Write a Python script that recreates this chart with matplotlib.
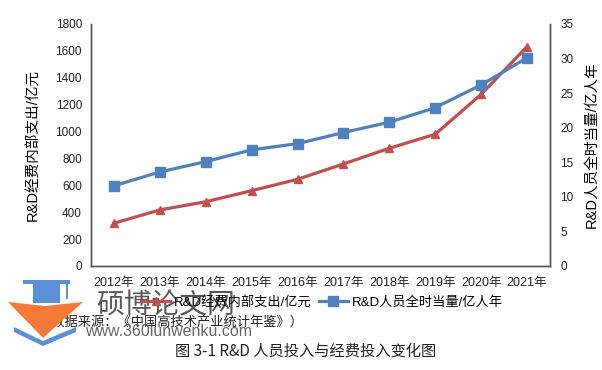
import numpy as np
import matplotlib
matplotlib.use("Agg")
import matplotlib.pyplot as plt
from matplotlib.patches import Polygon, Rectangle

plt.rcParams['font.family'] = ['Liberation Sans', 'Noto Sans CJK SC']

# data
years = ['2012年', '2013年', '2014年', '2015年', '2016年',
         '2017年', '2018年', '2019年', '2020年', '2021年']
spend = [318, 417, 478, 560, 645, 759, 876, 980, 1277, 1632]          # 亿元, left axis
staff = [11.6, 13.6, 15.1, 16.8, 17.7, 19.3, 20.8, 22.9, 26.2, 30.1]  # 亿人年, right axis
left_ticks = np.arange(0, 1801, 200)
right_ticks = np.arange(0, 36, 5)

red = '#C0504D'
blue = '#4F81BD'
W, H = 602, 370

fig = plt.figure(figsize=(W / 100, H / 100), dpi=100)
ax = fig.add_axes([91 / W, (H - 266) / H, (550 - 91) / W, (266 - 24) / H])
ax2 = ax.twinx()

x = np.arange(len(years))
l1, = ax.plot(x, spend, color=red, lw=2.3, marker='^', ms=6, label='R&D经费内部支出/亿元', zorder=3)
l2, = ax2.plot(x, staff, color=blue, lw=2.3, marker='s', ms=7, label='R&D人员全时当量/亿人年', zorder=3)

ax.set_xlim(-0.5, len(years) - 0.5)
ax.set_ylim(0, 1800)
ax2.set_ylim(0, 35)
ax.set_xticks(x)
ax.set_xticklabels(years, fontsize=9)
ax.set_yticks(left_ticks)
ax2.set_yticks(right_ticks)
ax.tick_params(axis='x', length=0, labelsize=9, pad=8, colors='#222222')
ax.tick_params(axis='y', length=0, labelsize=8.5, pad=6.5, colors='#222222')
ax2.tick_params(axis='y', length=0, labelsize=8.5, pad=7.5, colors='#222222')

for a in (ax, ax2):
    a.spines['top'].set_visible(False)
    for s in ('left', 'right', 'bottom'):
        a.spines[s].set_color('#555555')
        a.spines[s].set_linewidth(1.0)

ax.set_ylabel('R&D经费内部支出/亿元', fontsize=10.5)
ax.yaxis.set_label_coords(-0.111, 0.5)
ax2.set_ylabel('R&D人员全时当量/亿人年', fontsize=10.5, rotation=90)
ax2.yaxis.set_label_coords(1.076, 0.5)

fig.legend(handles=[l1, l2], loc='center', ncol=2, frameon=False, fontsize=9.5,
           bbox_to_anchor=(322 / W, 1 - 302 / H), handlelength=2.2, columnspacing=0.5,
           handletextpad=0.3)

# source note and caption
fig.text(39 / W, 1 - 322 / H, '（数据来源：《中国高技术产业统计年鉴》）', fontsize=9.5,
         va='center', ha='left', color='#222222', family=['Noto Sans CJK SC'])
fig.text(306 / W, 1 - 351 / H, '图 3-1 R&D 人员投入与经费投入变化图', fontsize=11,
         va='center', ha='center', color='#222222', family=['Noto Sans CJK SC'])

# watermark
fig.text(96 / W, 1 - 305 / H, '硕博论文网', fontsize=20, va='center', ha='left',
         color='#3a3a3a', alpha=0.85, family=['Noto Sans CJK SC'], zorder=4)
fig.text(85 / W, 1 - 332 / H, 'www.360lunwenku.com', fontsize=11.5, va='center', ha='left',
         color='#555555', alpha=0.9, zorder=4)
tf = fig.transFigure
def P(pts):
    return [(px / W, 1 - py / H) for px, py in pts]
logo = [
    Polygon(P([(8, 302), (45, 306), (83, 302), (43, 338)]), facecolor='#F47A38'),
    Polygon(P([(14, 327), (43, 341), (76, 327), (76, 332), (43, 346), (14, 332)]), facecolor='#5B8FD6'),
    Rectangle((33 / W, 1 - 303 / H), 27 / W, 20 / H, facecolor='#5B8FD6'),
    Rectangle((23 / W, 1 - 284 / H), 47 / W, 4 / H, facecolor='#5B8FD6'),
    Rectangle((66 / W, 1 - 299 / H), 1.5 / W, 15 / H, facecolor='#5B8FD6'),
]
for p in logo:
    p.set_transform(tf)
    p.set_zorder(5)
    p.set_edgecolor('none')
    fig.patches.append(p)

fig.savefig('out.png', dpi=100)
